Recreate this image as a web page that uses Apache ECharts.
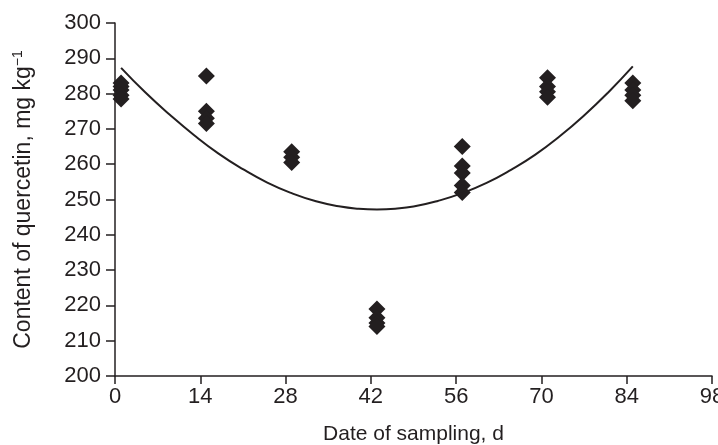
<!DOCTYPE html>
<html>
<head>
<meta charset="utf-8">
<script src="https://cdn.jsdelivr.net/npm/echarts@6/dist/echarts.min.js"></script>
<style>html,body{margin:0;padding:0;background:#fff}#c{width:718px;height:445px}</style>
</head>
<body>
<div id="c"></div>
<script>
// Sampling days and measured quercetin contents (mg/kg)
const days = [1, 15, 29, 43, 57, 71, 85];
const day1 = [283, 282, 281, 279.5, 278.5];
const day15 = [285, 275, 273, 271.5];
const day29 = [263.5, 262, 260.5];
const day43 = [219, 216.5, 215, 214];
const day57 = [265, 259.5, 257.5, 254, 252];
const day71 = [284.5, 282, 280.5, 279];
const day85 = [283, 281, 279.5, 278];
const groups = [day1, day15, day29, day43, day57, day71, day85];

// Fitted trend curve
const curveX = [1, 5, 9, 13, 17, 21, 25, 29, 33, 37, 40, 43, 46, 49, 53, 57, 61, 65, 69, 73, 77, 81, 85];
const curveY = [287.3, 280.3, 274, 268.2, 263, 258.6, 254.8, 251.8, 249.5, 248, 247.4, 247.2, 247.4, 248, 249.6, 251.8, 254.7, 258.4, 262.7, 267.9, 273.8, 280.4, 287.7];

const xTicks = [0, 14, 28, 42, 56, 70, 84, 98];

const scatterData = [];
groups.forEach((g, i) => g.forEach(v => scatterData.push([days[i], v])));
const curveData = curveX.map((x, i) => [x, curveY[i]]);

const ink = '#231f20';
const chart = echarts.init(document.getElementById('c'));
chart.setOption({
  animation: false,
  backgroundColor: '#fff',
  grid: { left: 115, right: 6, top: 23, bottom: 69, containLabel: false, outerBoundsMode: 'none' },
  xAxis: {
    type: 'value', min: 0, max: 98, interval: 14,
    name: 'Date of sampling, d', nameLocation: 'middle', nameGap: 48,
    nameTextStyle: { fontFamily: 'Liberation Sans', fontSize: 21, color: ink },
    axisLine: { show: true, lineStyle: { color: ink, width: 1.5 } },
    axisTick: { show: true, length: 8, inside: false, lineStyle: { color: ink, width: 1.5 } },
    axisLabel: { margin: 10, fontFamily: 'Liberation Sans', fontSize: 22, color: ink,
      formatter: v => xTicks.includes(v) ? String(v) : '' },
    splitLine: { show: false }
  },
  yAxis: {
    type: 'value', min: 200, max: 300, interval: 10,
    name: 'Content of quercetin, mg kg{sup|−1}', nameLocation: 'middle', nameGap: 79, nameRotate: 90,
    nameTextStyle: { fontFamily: 'Liberation Sans', fontSize: 23, color: ink,
      rich: { sup: { fontFamily: 'Liberation Sans', fontSize: 14, color: ink, verticalAlign: 'top', padding: [0, 0, 11, 0] } } },
    axisLine: { show: true, lineStyle: { color: ink, width: 1.5 } },
    axisTick: { show: true, length: 9, inside: false, lineStyle: { color: ink, width: 1.5 } },
    axisLabel: { margin: 14, fontFamily: 'Liberation Sans', fontSize: 22, color: ink },
    splitLine: { show: false }
  },
  series: [
    {
      type: 'line', data: curveData, smooth: true, showSymbol: false, symbol: 'none',
      lineStyle: { color: ink, width: 2 }, z: 3
    },
    {
      type: 'scatter', data: scatterData, symbol: 'diamond', symbolSize: 17,
      itemStyle: { color: ink, opacity: 1 }, z: 2
    }
  ]
});
</script>
</body>
</html>
